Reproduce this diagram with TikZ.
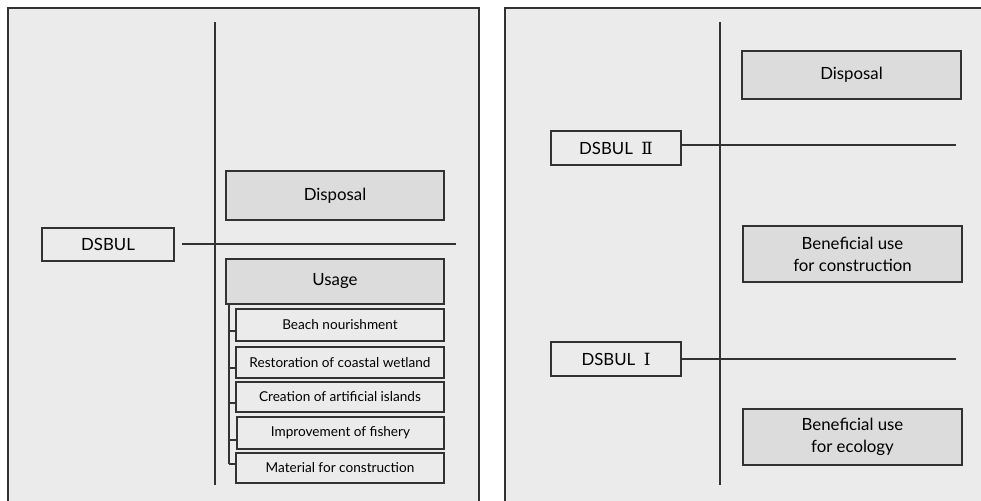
\documentclass[tikz,border=0pt]{standalone}
\usepackage{fontspec}
\setmainfont{Lato}
\newfontfamily\romfont{DejaVu Serif}
\usepackage{xcolor}
\usepackage{tikz}
\usetikzlibrary{positioning,backgrounds}
\pgfdeclarelayer{edgelayer}
\pgfdeclarelayer{nodelayer}
\pgfsetlayers{background,edgelayer,nodelayer,main}
\definecolor{panelgray}{RGB}{235,235,235}
\definecolor{boxgray}{RGB}{220,220,221}
\definecolor{inkgray}{RGB}{50,50,50}
\tikzstyle{none}=[inner sep=0mm]
\tikzstyle{panel}=[draw=inkgray,fill=panelgray,line width=1.3pt]
\tikzstyle{wire}=[draw=inkgray,line width=1.1pt]
\tikzstyle{lab}=[draw=inkgray,fill=panelgray,line width=1.2pt,inner sep=0pt,font=\fontsize{16.8}{22}\selectfont,align=center]
\tikzstyle{gb}=[lab,fill=boxgray]
\tikzstyle{sub}=[lab,fill=panelgray,font=\fontsize{13.6}{16}\selectfont]
\begin{document}
\begin{tikzpicture}[x=1pt,y=-1pt]
	\useasboundingbox (0,0) rectangle (981,500);
	\clip (0,0) rectangle (981,500);
	\begin{pgfonlayer}{background}
		\fill[white] (0,0) rectangle (981,500);
		\draw[panel] (8,8) rectangle (479,520);
		\draw[panel] (505,8) rectangle (995,520);
	\end{pgfonlayer}
	\begin{pgfonlayer}{nodelayer}
		% left panel
		\node [style=lab, minimum width=132pt, minimum height=33pt] (dsbul) at (108, 244.5) {DSBUL};
		\node [style=gb, minimum width=218pt, minimum height=49pt] (disp) at (335, 195.5) {Disposal};
		\node [style=gb, minimum width=218pt, minimum height=45pt] (usage) at (335, 281.5) {Usage};
		\node [style=sub, minimum width=208pt, minimum height=32pt] (beach) at (340, 325) {Beach nourishment};
		\node [style=sub, minimum width=208pt, minimum height=31pt] (wet) at (340, 362.5) {Restoration of coastal wetland};
		\node [style=sub, minimum width=208pt, minimum height=30pt] (isl) at (340, 397) {Creation of artificial islands};
		\node [style=sub, minimum width=207pt, minimum height=32pt] (fish) at (340.5, 433) {Improvement of fishery};
		\node [style=sub, minimum width=208pt, minimum height=30pt] (mat) at (340, 468) {Material for construction};
		\coordinate (ltop) at (215, 22);
		\coordinate (lbot) at (215, 485);
		\coordinate (lstart) at (182, 244);
		\coordinate (lend) at (456, 244);
		\coordinate (br) at (229, 304);
		% right panel
		\node [style=gb, minimum width=219pt, minimum height=48pt] (rdisp) at (851.5, 75) {Disposal};
		\node [style=lab, minimum width=130pt, minimum height=34pt] (dsbul2) at (616, 148) {DSBUL~~{\romfont Ⅱ}};
		\node [style=gb, minimum width=219pt, minimum height=56pt] (constr) at (852.5, 254) {Beneficial use\\for construction};
		\node [style=lab, minimum width=130pt, minimum height=34pt] (dsbul1) at (616, 359) {DSBUL~~{\romfont Ⅰ}};
		\node [style=gb, minimum width=219pt, minimum height=56pt] (eco) at (852.5, 437) {Beneficial use\\for ecology};
		\coordinate (rtop) at (720, 22);
		\coordinate (rbot) at (720, 485);
		\coordinate (end2) at (956, 145);
		\coordinate (end1) at (956, 359);
	\end{pgfonlayer}
	\begin{pgfonlayer}{edgelayer}
		\draw[wire] (ltop) to (lbot);
		\draw[wire] (lstart) to (lend);
		\draw[wire] (br) to (br |- 0,464);
		\draw[wire] (br |- 0,331) to (0,331 -| beach.west);
		\draw[wire] (br |- 0,368) to (0,368 -| wet.west);
		\draw[wire] (br |- 0,403) to (0,403 -| isl.west);
		\draw[wire] (br |- 0,440) to (0,440 -| fish.west);
		\draw[wire] (br |- 0,464) to (0,464 -| mat.west);
		\draw[wire] (rtop) to (rbot);
		\draw[wire] (dsbul2.east |- end2) to (end2);
		\draw[wire] (dsbul1.east) to (end1);
	\end{pgfonlayer}
\end{tikzpicture}
\end{document}
